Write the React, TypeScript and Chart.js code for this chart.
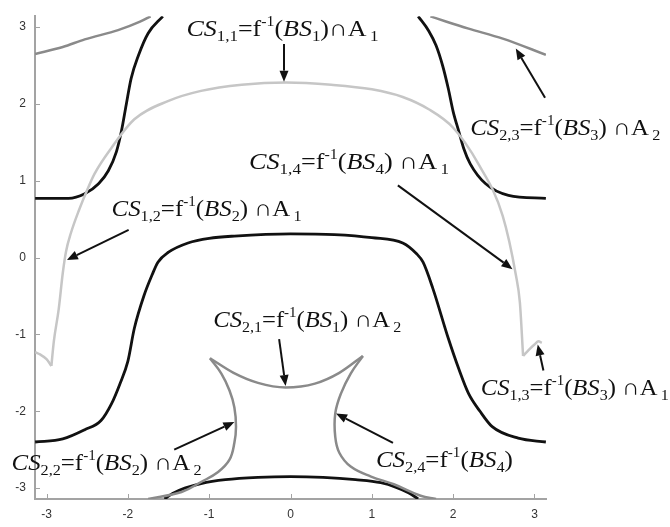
import React, { useEffect, useRef } from 'react';
import { Chart, registerables } from 'chart.js';

Chart.register(...registerables);

// ---------- axis ticks ----------
const xTickValues = [-3, -2, -1, 0, 1, 2, 3];
const yTickValues = [-3, -2, -1, 0, 1, 2, 3];

// ---------- curves (CS sets) ----------
// light gray: CS1 (big arch with cusps)
const lgLeftHookX = [-3.14, -3.08, -3.0, -2.94];
const lgLeftHookY = [-1.23, -1.26, -1.32, -1.41];
const lgArchX = [-2.94, -2.91, -2.85, -2.8, -2.76, -2.7, -2.6, -2.5, -2.41, -2.2, -1.92, -1.5, -1.1, -0.6, -0.05, 0.5, 1.0, 1.38, 1.7, 2.0, 2.31, 2.61, 2.77, 2.82, 2.86];
const lgArchY = [-1.41, -1.09, -0.67, -0.2, 0.08, 0.32, 0.62, 0.88, 1.09, 1.43, 1.8, 2.04, 2.17, 2.25, 2.28, 2.25, 2.19, 2.09, 1.93, 1.69, 1.22, 0.54, -0.22, -0.58, -1.28];
const lgRightHookX = [2.86, 2.93, 3.0, 3.05, 3.09];
const lgRightHookY = [-1.28, -1.2, -1.13, -1.09, -1.11];

// dark gray: CS2
const dgTopLeftX = [-3.14, -2.8, -2.53, -2.12, -1.85, -1.72];
const dgTopLeftY = [2.65, 2.74, 2.84, 2.96, 3.07, 3.14];
const dgTopRightX = [1.72, 1.92, 2.19, 2.61, 3.14];
const dgTopRightY = [3.14, 3.07, 2.98, 2.85, 2.64];
const dgArcX = [-0.99, -0.7, -0.4, -0.06, 0.3, 0.6, 0.89];
const dgArcY = [-1.31, -1.5, -1.63, -1.69, -1.64, -1.5, -1.28];
const dgLeftX = [-0.99, -0.85, -0.75, -0.69, -0.67, -0.69, -0.75, -0.89, -1.1, -1.34, -1.75];
const dgLeftY = [-1.31, -1.51, -1.73, -1.95, -2.2, -2.41, -2.63, -2.79, -2.92, -3.05, -3.14];
const dgRightX = [0.89, 0.74, 0.62, 0.55, 0.55, 0.6, 0.74, 0.99, 1.27, 1.6, 1.79];
const dgRightY = [-1.28, -1.51, -1.77, -2.03, -2.33, -2.54, -2.72, -2.85, -2.95, -3.1, -3.14];

// black: boundary curves
const bkTopLeftX = [-3.14, -2.73, -2.53, -2.36, -2.24, -2.14, -2.08, -2.02, -1.96, -1.87, -1.75, -1.57];
const bkTopLeftY = [0.77, 0.77, 0.83, 0.96, 1.13, 1.38, 1.64, 1.99, 2.33, 2.63, 2.92, 3.14];
const bkTopRightX = [1.57, 1.7, 1.79, 1.87, 1.94, 2.0, 2.07, 2.13, 2.21, 2.4, 2.68, 3.14];
const bkTopRightY = [3.14, 2.95, 2.76, 2.5, 2.2, 1.9, 1.64, 1.42, 1.22, 0.96, 0.81, 0.77];
const bkMiddleX = [-3.14, -2.8, -2.53, -2.33, -2.2, -2.1, -2.0, -1.92, -1.8, -1.7, -1.63, -1.5, -1.26, -1.0, -0.69, 0.0, 0.54, 1.0, 1.38, 1.55, 1.63, 1.75, 1.94, 2.07, 2.19, 2.33, 2.48, 2.8, 3.14];
const bkMiddleY = [-2.4, -2.36, -2.24, -2.12, -1.9, -1.65, -1.35, -0.92, -0.49, -0.22, -0.06, 0.07, 0.19, 0.25, 0.28, 0.31, 0.3, 0.26, 0.19, 0.05, -0.06, -0.4, -1.05, -1.45, -1.77, -2.0, -2.2, -2.35, -2.4];
const bkBottomX = [-1.55, -1.45, -1.3, -1.1, -0.8, -0.4, 0.0, 0.4, 0.8, 1.11, 1.3, 1.45, 1.57];
const bkBottomY = [-3.14, -3.07, -3.0, -2.94, -2.89, -2.86, -2.85, -2.86, -2.89, -2.93, -2.99, -3.06, -3.14];

// ---------- annotation texts ----------
type Seg = [string, 'i' | 'r' | 'b' | 'p'];
const labelTexts: Seg[][] = [
  [['CS', 'i'], ['1,1', 'b'], ['=f', 'r'], ['-1', 'p'], ['(', 'r'], ['BS', 'i'], ['1', 'b'], [')\u2229A', 'r'], ['\u20091', 'b']],
  [['CS', 'i'], ['2,3', 'b'], ['=f', 'r'], ['-1', 'p'], ['(', 'r'], ['BS', 'i'], ['3', 'b'], [') \u2229A', 'r'], ['\u20092', 'b']],
  [['CS', 'i'], ['1,4', 'b'], ['=f', 'r'], ['-1', 'p'], ['(', 'r'], ['BS', 'i'], ['4', 'b'], [') \u2229A', 'r'], ['\u20091', 'b']],
  [['CS', 'i'], ['1,2', 'b'], ['=f', 'r'], ['-1', 'p'], ['(', 'r'], ['BS', 'i'], ['2', 'b'], [') \u2229A', 'r'], ['\u20091', 'b']],
  [['CS', 'i'], ['2,1', 'b'], ['=f', 'r'], ['-1', 'p'], ['(', 'r'], ['BS', 'i'], ['1', 'b'], [') \u2229A', 'r'], ['\u20092', 'b']],
  [['CS', 'i'], ['1,3', 'b'], ['=f', 'r'], ['-1', 'p'], ['(', 'r'], ['BS', 'i'], ['3', 'b'], [') \u2229A', 'r'], ['\u20091', 'b']],
  [['CS', 'i'], ['2,2', 'b'], ['=f', 'r'], ['-1', 'p'], ['(', 'r'], ['BS', 'i'], ['2', 'b'], [') \u2229A', 'r'], ['\u20092', 'b']],
  [['CS', 'i'], ['2,4', 'b'], ['=f', 'r'], ['-1', 'p'], ['(', 'r'], ['BS', 'i'], ['4', 'b'], [')', 'r']],
];

// label placement (data coordinates: left edge, baseline) and rendered width in px
const labelLayout = [
  { x: -1.28, y: 2.88, w: 192 },
  { x: 2.21, y: 1.6, w: 190 },
  { x: -0.51, y: 1.15, w: 200 },
  { x: -2.2, y: 0.54, w: 190 },
  { x: -0.95, y: -0.9, w: 188 },
  { x: 2.34, y: -1.79, w: 188 },
  { x: -3.43, y: -2.76, w: 190 },
  { x: 1.05, y: -2.72, w: 137 },
];

// arrows (data coordinates: from -> tip)
const arrowLayout = [
  { x0: -0.08, y0: 2.78, x1: -0.08, y1: 2.29 },
  { x0: 3.13, y0: 2.08, x1: 2.77, y1: 2.72 },
  { x0: 1.32, y0: 0.94, x1: 2.73, y1: -0.15 },
  { x0: -1.99, y0: 0.36, x1: -2.75, y1: -0.03 },
  { x0: -0.14, y0: -1.06, x1: -0.06, y1: -1.67 },
  { x0: 3.11, y0: -1.47, x1: 3.04, y1: -1.13 },
  { x0: -1.43, y0: -2.5, x1: -0.69, y1: -2.14 },
  { x0: 1.26, y0: -2.41, x1: 0.56, y1: -2.03 },
];

const SERIF = '"Liberation Serif", "DejaVu Serif", serif';
const AXIS_COLOR = '#a3a3a3';

function pts(xs: number[], ys: number[]) {
  return xs.map((x, i) => ({ x, y: ys[i] }));
}

function segFont(kind: string) {
  if (kind === 'i') return `italic 23px ${SERIF}`;
  if (kind === 'r') return `23px ${SERIF}`;
  if (kind === 'b') return `15px ${SERIF}`;
  return `14px ${SERIF}`;
}
function segShift(kind: string) {
  if (kind === 'b') return 5;
  if (kind === 'p') return -10;
  return 0;
}

const annotationPlugin = {
  id: 'csAnnotations',
  afterDatasetsDraw(chart: any) {
    const ctx: CanvasRenderingContext2D = chart.ctx;
    const xs = chart.scales.x;
    const ys = chart.scales.y;
    const { left, bottom } = chart.chartArea;
    ctx.save();
    // inward tick marks
    ctx.strokeStyle = AXIS_COLOR;
    ctx.lineWidth = 1;
    xTickValues.forEach((v) => {
      const p = Math.round(xs.getPixelForValue(v)) + 0.5;
      ctx.beginPath();
      ctx.moveTo(p, bottom);
      ctx.lineTo(p, bottom - 5);
      ctx.stroke();
    });
    yTickValues.forEach((v) => {
      const p = Math.round(ys.getPixelForValue(v)) + 0.5;
      ctx.beginPath();
      ctx.moveTo(left, p);
      ctx.lineTo(left + 5, p);
      ctx.stroke();
    });

    // arrows
    ctx.strokeStyle = '#111';
    ctx.fillStyle = '#111';
    ctx.lineWidth = 2;
    arrowLayout.forEach((a) => {
      const x0 = xs.getPixelForValue(a.x0);
      const y0 = ys.getPixelForValue(a.y0);
      const x1 = xs.getPixelForValue(a.x1);
      const y1 = ys.getPixelForValue(a.y1);
      const ang = Math.atan2(y1 - y0, x1 - x0);
      const hl = 11;
      const hw = 4.5;
      const bx = x1 - hl * Math.cos(ang);
      const by = y1 - hl * Math.sin(ang);
      ctx.beginPath();
      ctx.moveTo(x0, y0);
      ctx.lineTo(bx, by);
      ctx.stroke();
      ctx.beginPath();
      ctx.moveTo(x1, y1);
      ctx.lineTo(bx + hw * Math.sin(ang), by - hw * Math.cos(ang));
      ctx.lineTo(bx - hw * Math.sin(ang), by + hw * Math.cos(ang));
      ctx.closePath();
      ctx.fill();
    });

    // labels
    ctx.textBaseline = 'alphabetic';
    ctx.textAlign = 'left';
    ctx.fillStyle = '#111';
    labelTexts.forEach((segs, i) => {
      const lay = labelLayout[i];
      let natural = 0;
      segs.forEach(([t, k]) => {
        ctx.font = segFont(k);
        natural += ctx.measureText(t).width;
      });
      const sx = lay.w / natural;
      const px = xs.getPixelForValue(lay.x);
      const py = ys.getPixelForValue(lay.y);
      ctx.save();
      ctx.translate(px, py);
      ctx.scale(sx, 1);
      let cx = 0;
      segs.forEach(([t, k]) => {
        ctx.font = segFont(k);
        ctx.fillText(t, cx, segShift(k));
        cx += ctx.measureText(t).width;
      });
      ctx.restore();
    });
    ctx.restore();
  },
};

const tickFont = { family: '"Liberation Sans", Arial, sans-serif', size: 12 };

export default function App() {
  const canvasRef = useRef<HTMLCanvasElement | null>(null);

  useEffect(() => {
    const canvas = canvasRef.current;
    if (!canvas) return;
    const line = (xsArr: number[], ysArr: number[], color: string, width: number, mono: boolean) => ({
      data: pts(xsArr, ysArr),
      showLine: true,
      borderColor: color,
      borderWidth: width,
      pointRadius: 0,
      pointHoverRadius: 0,
      tension: 0.4,
      cubicInterpolationMode: mono ? 'monotone' : 'default',
      fill: false,
    });
    const LG = '#c6c6c6';
    const DG = '#8a8a8a';
    const BK = '#111111';
    const chart = new Chart(canvas, {
      type: 'scatter',
      data: {
        datasets: [
          line(lgLeftHookX, lgLeftHookY, LG, 2.5, true),
          line(lgArchX, lgArchY, LG, 2.5, true),
          line(lgRightHookX, lgRightHookY, LG, 2.5, true),
          line(dgTopLeftX, dgTopLeftY, DG, 2.5, true),
          line(dgTopRightX, dgTopRightY, DG, 2.5, true),
          line(dgArcX, dgArcY, DG, 2.5, true),
          line(dgLeftX, dgLeftY, DG, 2.5, false),
          line(dgRightX, dgRightY, DG, 2.5, false),
          line(bkTopLeftX, bkTopLeftY, BK, 2.8, true),
          line(bkTopRightX, bkTopRightY, BK, 2.8, true),
          line(bkMiddleX, bkMiddleY, BK, 2.8, true),
          line(bkBottomX, bkBottomY, BK, 2.8, true),
        ] as any,
      },
      options: {
        animation: false,
        responsive: false,
        devicePixelRatio: 1,
        events: [],
        layout: { padding: { left: 0, top: 12, right: 124, bottom: 0 } },
        plugins: { legend: { display: false }, tooltip: { enabled: false }, title: { display: false } },
        scales: {
          x: {
            type: 'linear',
            min: -Math.PI,
            max: Math.PI,
            afterBuildTicks: (s: any) => {
              s.ticks = xTickValues.map((v) => ({ value: v }));
            },
            afterFit: (s: any) => {
              s.height = 28;
            },
            ticks: { font: tickFont, color: '#333', padding: 8, maxRotation: 0, autoSkip: false, callback: (v: any) => String(v) },
            grid: { display: false, drawTicks: false },
            border: { display: true, color: AXIS_COLOR, width: 2 },
          },
          y: {
            type: 'linear',
            min: -Math.PI,
            max: Math.PI,
            afterBuildTicks: (s: any) => {
              s.ticks = yTickValues.map((v) => ({ value: v }));
            },
            afterFit: (s: any) => {
              s.width = 35;
            },
            ticks: { font: tickFont, color: '#333', padding: 9, autoSkip: false, callback: (v: any) => String(v) },
            grid: { display: false, drawTicks: false },
            border: { display: true, color: AXIS_COLOR, width: 2 },
          },
        },
      } as any,
      plugins: [annotationPlugin],
    });
    return () => chart.destroy();
  }, []);

  return (
    <div style={{ position: 'absolute', left: 0, top: 0, width: 670, height: 527, background: '#fff' }}>
      <canvas ref={canvasRef} width={670} height={527} style={{ width: 670, height: 527, display: 'block' }} />
    </div>
  );
}
